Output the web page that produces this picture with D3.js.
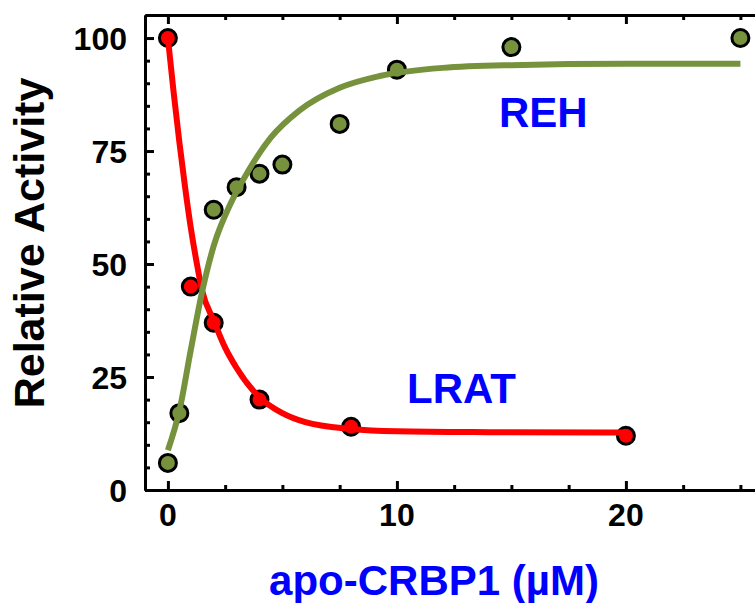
<!DOCTYPE html>
<html>
<head>
<meta charset="utf-8">
<script src="https://cdn.jsdelivr.net/npm/d3@7"></script>
<style>
  html, body { margin: 0; padding: 0; background: #fff; }
  svg { display: block; }
  text { font-family: "Liberation Sans", Arial, sans-serif; font-weight: bold; }
</style>
</head>
<body>
<svg id="chart" width="755" height="603"></svg>
<script>
// ---- Data ----
const lratX = [0, 1, 2, 4, 8, 20];
const lratY = [100, 45, 37, 20, 14, 12];

const rehX = [0, 0.5, 2, 3, 4, 5, 7.5, 10, 15, 25];
const rehY = [6, 17, 62, 67, 70, 72, 81, 93, 98, 100];

// fitted curves
const lratFitX = [0, 0.25, 0.5, 0.75, 1, 1.25, 1.5, 2, 2.5, 3, 4, 5, 6, 8, 10, 14, 20];
const lratFitY = [100, 88, 77, 67, 58, 50.5, 44, 37.5, 31.5, 27, 20.5, 17, 15, 13.5, 13, 12.8, 12.7];

const rehFitX = [0, 0.5, 1, 1.5, 2, 2.75, 3.5, 4.5, 5.75, 7.5, 9.25, 12, 15, 20, 25];
const rehFitY = [8.8, 17.5, 31, 44, 54, 63.5, 70.5, 78, 84, 89, 91.6, 93.4, 94, 94.3, 94.3];

const xMajorTicks = [0, 10, 20];
const yMajorTicks = [0, 25, 50, 75, 100];

const xTitle = "apo-CRBP1 (µM)";
const yTitle = "Relative Activity";
const lratLabel = "LRAT";
const rehLabel = "REH";

// ---- Drawing ----
const svg = d3.select("#chart");
const mLeft = 145, mTop = 15, mBottom = 490;
const pxPerUnit = 22.9;
const x = d3.scaleLinear().domain([-1, 26]).range([mLeft, mLeft + 27 * pxPerUnit]);
const y = d3.scaleLinear().domain([0, 105.1]).range([mBottom, mTop]);

const RED = "#ff0000", GREEN = "#76923c", BLUE = "#0000ff";

const axisG = svg.append("g");
function styleAxis(g) {
  g.select(".domain").attr("stroke", "#000").attr("stroke-width", 3);
  g.selectAll(".tick line").attr("stroke", "#000").attr("stroke-width", 3);
  g.selectAll("text").remove();
}
const xMinor = d3.range(0, 26, 2.5).filter(v => !xMajorTicks.includes(v));
const yMinor = d3.range(0, 105, 5).filter(v => !yMajorTicks.includes(v));

// bottom axis (ticks inward)
const gb = axisG.append("g").attr("transform", `translate(0,${mBottom})`);
gb.call(d3.axisTop(x).tickValues(xMajorTicks).tickSize(9).tickSizeOuter(0));
styleAxis(gb);
const gbm = axisG.append("g").attr("transform", `translate(0,${mBottom})`);
gbm.call(d3.axisTop(x).tickValues(xMinor).tickSize(5).tickSizeOuter(0));
styleAxis(gbm);

// top axis (ticks inward)
const gt = axisG.append("g").attr("transform", `translate(0,${mTop})`);
gt.call(d3.axisBottom(x).tickValues(xMajorTicks).tickSize(9).tickSizeOuter(0));
styleAxis(gt);
const gtm = axisG.append("g").attr("transform", `translate(0,${mTop})`);
gtm.call(d3.axisBottom(x).tickValues(xMinor).tickSize(5).tickSizeOuter(0));
styleAxis(gtm);

// left axis (ticks inward)
const gl = axisG.append("g").attr("transform", `translate(${mLeft},0)`);
gl.call(d3.axisRight(y).tickValues(yMajorTicks).tickSize(9).tickSizeOuter(0));
styleAxis(gl);
const glm = axisG.append("g").attr("transform", `translate(${mLeft},0)`);
glm.call(d3.axisRight(y).tickValues(yMinor).tickSize(5).tickSizeOuter(0));
styleAxis(glm);

// tick labels
svg.append("g").selectAll("text").data(xMajorTicks).join("text")
  .attr("x", d => x(d)).attr("y", 526)
  .attr("text-anchor", "middle").attr("font-size", 32).attr("fill", "#000")
  .text(d => d);
svg.append("g").selectAll("text").data(yMajorTicks).join("text")
  .attr("x", 127).attr("y", d => y(d) + 11.5)
  .attr("text-anchor", "end").attr("font-size", 32).attr("fill", "#000")
  .text(d => d);

// axis titles
svg.append("text")
  .attr("x", 434).attr("y", 595)
  .attr("text-anchor", "middle").attr("font-size", 42).attr("fill", BLUE)
  .text(xTitle);
svg.append("text")
  .attr("transform", `translate(44,243) rotate(-90)`)
  .attr("text-anchor", "middle").attr("font-size", 43).attr("fill", "#000")
  .text(yTitle);

// markers
function markers(xs, ys, color) {
  svg.append("g").selectAll("circle").data(xs.map((d, i) => [d, ys[i]])).join("circle")
    .attr("cx", d => x(d[0])).attr("cy", d => y(d[1])).attr("r", 8.5)
    .attr("fill", color).attr("stroke", "#000").attr("stroke-width", 3);
}
markers(rehX, rehY, GREEN);
markers(lratX, lratY, RED);

// fit lines
const line = d3.line().x(d => x(d[0])).y(d => y(d[1])).curve(d3.curveMonotoneX);
svg.append("path")
  .datum(lratFitX.map((d, i) => [d, lratFitY[i]]))
  .attr("d", line).attr("fill", "none").attr("stroke", RED).attr("stroke-width", 6);
svg.append("path")
  .datum(rehFitX.map((d, i) => [d, rehFitY[i]]))
  .attr("d", line).attr("fill", "none").attr("stroke", GREEN).attr("stroke-width", 6);

// series labels
svg.append("text").attr("x", 499).attr("y", 127)
  .attr("font-size", 42).attr("fill", BLUE).text(rehLabel);
svg.append("text").attr("x", 407).attr("y", 403)
  .attr("font-size", 42).attr("fill", BLUE).text(lratLabel);
</script>
</body>
</html>
